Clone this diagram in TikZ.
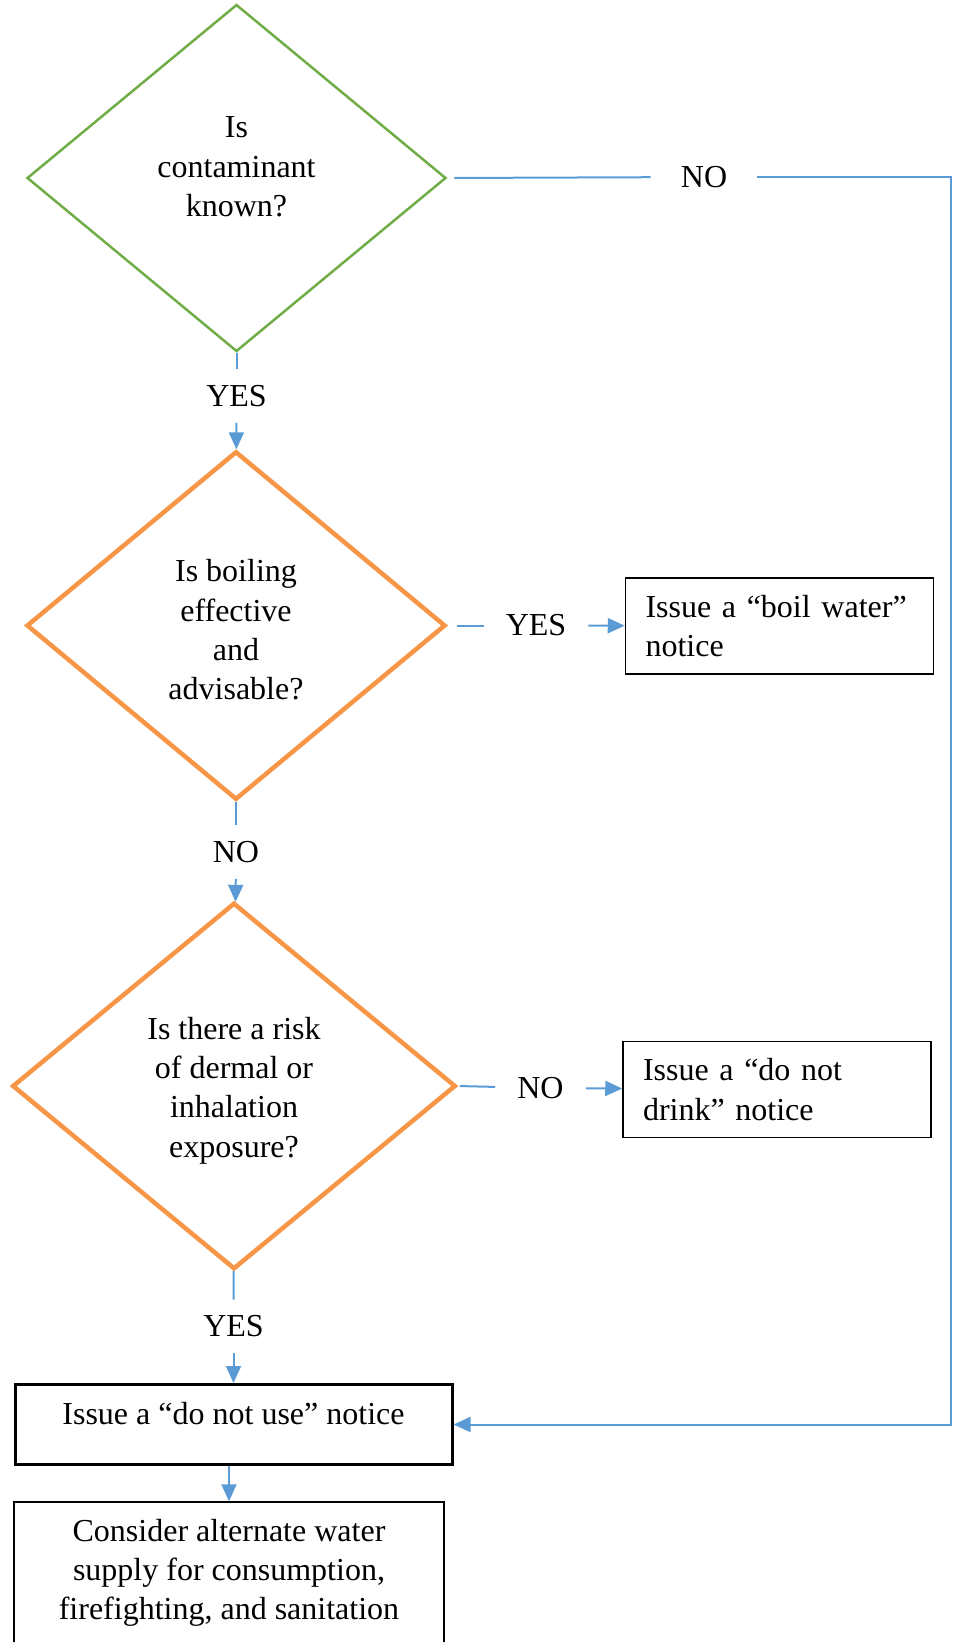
\documentclass[tikz,border=0pt]{standalone}
\usepackage{fontspec}
\setmainfont{Liberation Serif}
\usepackage{xcolor}
\definecolor{leafGreen}{HTML}{70AD47}
\definecolor{alertOrange}{HTML}{F79646}
\definecolor{flowBlue}{HTML}{5B9BD5}
\usepackage{tikz}
\usetikzlibrary{
    shapes.geometric,
    arrows.meta
}
\tikzset{
    % Base style for all text
    word base/.style={
        font=\fontsize{32}{39.3}\selectfont,
        align=center,
        text=black,
    },
    % Decision diamonds
    question/.style={
        word base,
        diamond,
        inner sep=0pt,
    },
    question green/.style={
        question,
        draw=leafGreen,
        line width=2.5pt,
    },
    question orange/.style={
        question,
        draw=alertOrange,
        line width=4.5pt,
    },
    % Text set over a diamond
    question text/.style={
        word base,
        inner sep=0pt,
    },
    % Side notices - left aligned text
    notice/.style={
        word base,
        rectangle,
        draw=black,
        line width=1.5pt,
        align=left,
        text width=268pt,
        inner xsep=20pt,
        minimum height=96pt,
    },
    % Main action box
    action/.style={
        word base,
        rectangle,
        draw=black,
        line width=3pt,
        minimum width=437pt,
        minimum height=80pt,
        text depth=23pt,
    },
    % Closing box
    closing/.style={
        word base,
        rectangle,
        draw=black,
        line width=1.5pt,
        minimum width=430pt,
        minimum height=142pt,
    },
    % YES/NO labels on the connectors
    answer/.style={
        word base,
        inner xsep=22pt,
        inner ysep=16pt,
    },
    % Connector without tip
    link/.style={
        draw=flowBlue,
        line width=2pt,
    },
    % Connector with tip
    arrow/.style={
        link,
        -{Triangle[length=17pt, width=15pt]},
    },
}

\begin{document}
\begin{tikzpicture}[x=1pt, y=-1pt]
    \useasboundingbox (0,0) rectangle (956,1642);
    \clip (0,0) rectangle (956,1642);

    \node (q1) [question green, minimum width=419pt, minimum height=347pt] at (236.5,178) {};
    \node (q1text) [question text] at ([yshift=11pt]q1.center) {Is\\contaminant\\known?};
    \node (q2) [question orange, minimum width=419pt, minimum height=348.5pt] at (236,625.5) {};
    \node (q2text) [question text] at ([yshift=-4.5pt]q2.center) {Is boiling\\effective\\and\\advisable?};
    \node (q3) [question orange, minimum width=443.5pt, minimum height=366.5pt] at (234,1086) {};
    \node (q3text) [question text] at ([yshift=-4.5pt]q3.center) {Is there a risk\\of dermal or\\inhalation\\exposure?};

    \node (boil) [notice] at (779.5,626) {Issue a “boil water”\\notice};
    \node (drink) [notice] at (777,1089.5) {Issue a “do not\\drink” notice};
    \node (use) [action] at (233.5,1424.5) {Issue a “do not use” notice};
    \node (supply) [closing] at (229,1573) {Consider alternate water\\supply for consumption,\\firefighting, and sanitation};

    \node (no0) [answer, inner xsep=30pt] at (704,177) {NO};
    \node (yes1) [answer] at (236.5,396) {YES};
    \node (yes2) [answer] at (536,625.5) {YES};
    \node (no1) [answer] at (236,852) {NO};
    \node (no2) [answer] at (540.5,1088) {NO};
    \node (yes3) [answer] at (233.5,1326.5) {YES};
    \coordinate (rail) at (951,177);

    \draw [link] (q1) -- (yes1);
    \draw [arrow] (yes1) -- (q2);
    \draw [link] (q2) -- (no1);
    \draw [arrow] (no1) -- (q3);
    \draw [link] (q3) -- (yes3);
    \draw [arrow] (yes3) -- (use);
    \draw [arrow] (use.south -| supply.north) -- (supply.north);

    \draw [link, shorten <=9pt] (q2.east) -- (yes2);
    \draw [arrow] (yes2) -- (boil);
    \draw [link, shorten <=2pt] (q3.east) -- (no2);
    \draw [arrow] (no2) -- (drink);

    \draw [link, shorten <=7pt] (q1.east) -- (no0);
    \draw [arrow] (no0) -| (rail) |- (use);
\end{tikzpicture}
\end{document}
